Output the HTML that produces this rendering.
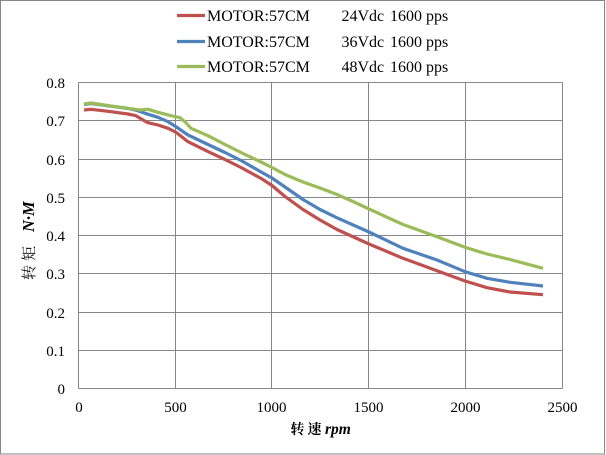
<!DOCTYPE html>
<html>
<head>
<meta charset="utf-8">
<style>
html,body{margin:0;padding:0;background:#fff;}
svg{display:block;}
text{font-family:"Liberation Serif","Noto Serif CJK SC",serif;fill:#000;}
</style>
</head>
<body>
<svg width="606" height="455" viewBox="0 0 606 455" xmlns="http://www.w3.org/2000/svg">
<rect x="0.5" y="0.5" width="604" height="453.5" fill="#fff" stroke="#868686" stroke-width="1"/>

<!-- gridlines -->
<g stroke="#868686" stroke-width="1" shape-rendering="crispEdges">
<line x1="78.5" y1="82.5" x2="562.5" y2="82.5"/>
<line x1="78.5" y1="120.5" x2="562.5" y2="120.5"/>
<line x1="78.5" y1="159.5" x2="562.5" y2="159.5"/>
<line x1="78.5" y1="197.5" x2="562.5" y2="197.5"/>
<line x1="78.5" y1="235.5" x2="562.5" y2="235.5"/>
<line x1="78.5" y1="273.5" x2="562.5" y2="273.5"/>
<line x1="78.5" y1="312.5" x2="562.5" y2="312.5"/>
<line x1="78.5" y1="350.5" x2="562.5" y2="350.5"/>
<line x1="78.5" y1="388.5" x2="562.5" y2="388.5"/>
<line x1="78.5" y1="82.5" x2="78.5" y2="388.5"/>
<line x1="175.5" y1="82.5" x2="175.5" y2="388.5"/>
<line x1="271.5" y1="82.5" x2="271.5" y2="388.5"/>
<line x1="368.5" y1="82.5" x2="368.5" y2="388.5"/>
<line x1="465.5" y1="82.5" x2="465.5" y2="388.5"/>
<line x1="562.5" y1="82.5" x2="562.5" y2="388.5"/>
</g>

<!-- y tick labels -->
<g font-size="15" text-anchor="end">
<text x="65" y="88">0.8</text>
<text x="65" y="126">0.7</text>
<text x="65" y="165">0.6</text>
<text x="65" y="203">0.5</text>
<text x="65" y="241">0.4</text>
<text x="65" y="279">0.3</text>
<text x="65" y="318">0.2</text>
<text x="65" y="356">0.1</text>
<text x="65" y="394">0</text>
</g>

<!-- x tick labels -->
<g font-size="15" text-anchor="middle">
<text x="79" y="412">0</text>
<text x="175.5" y="412">500</text>
<text x="271.5" y="412">1000</text>
<text x="368.5" y="412">1500</text>
<text x="465.5" y="412">2000</text>
<text x="562.5" y="412">2500</text>
</g>

<!-- axis titles -->
<text x="290.5" y="434" font-size="14" font-weight="bold" letter-spacing="3" font-family="'Liberation Serif','Noto Serif CJK SC',serif">转速</text>
<text x="325" y="434" font-size="15.5" font-weight="bold" font-style="italic">rpm</text>

<g transform="translate(34,240) rotate(-90)">
<text x="-40" y="0" font-size="15" letter-spacing="4" font-family="'Liberation Serif','Noto Serif CJK SC',serif">转矩</text>
<text x="8" y="0" font-size="16.5" font-weight="bold" font-style="italic">N·M</text>
</g>

<!-- series -->
<g fill="none" stroke-width="3.2" stroke-linejoin="round" stroke-linecap="butt">
<polyline stroke="#C0504D" points="84,110 91,109.3 111,111.7 128,114 136,115.7 143,120 148,122.7 158,125 168,128.3 176,132.3 188,141.7 208,151.6 225,159.5 242,168 262,179 272,185.5 285,196.5 303,209.5 320,220 337,229.5 369,244 403,258.3 437,270.7 465,281 487,287.7 510,292 543,294.7"/>
<polyline stroke="#4F81BD" points="84,104.5 91,103.5 111,106.2 128,108.5 137,110.5 145,113.3 158,117.3 168,121.7 176,126.7 188,135 208,144.5 225,152.5 242,161 262,172.5 272,178 285,187 303,199.5 320,209.5 337,217.8 369,232 403,248.3 437,260 465,271.7 487,278.3 510,282.3 543,286"/>
<polyline stroke="#9BBB59" points="84,104 91,103 111,106 128,108.3 140,110 148,109.3 158,112.3 171,115.7 180,117.7 185,121.7 191,128.3 208,135.7 225,144.5 242,153 262,162.5 272,167.5 285,174.5 303,182 320,188 337,194.5 353,201.5 369,209 403,224.5 437,236.7 465,247.3 487,254 510,259.5 543,268.3"/>
</g>

<!-- legend -->
<g stroke-width="3.2">
<line x1="177" y1="15.5" x2="205" y2="15.5" stroke="#C0504D"/>
<line x1="177" y1="41.5" x2="205" y2="41.5" stroke="#4F81BD"/>
<line x1="177" y1="66.5" x2="205" y2="66.5" stroke="#9BBB59"/>
</g>
<g font-size="16">
<text x="207" y="21">MOTOR:57CM</text>
<text x="341.5" y="21">24Vdc</text>
<text x="390" y="21">1600 pps</text>
<text x="207" y="47">MOTOR:57CM</text>
<text x="341.5" y="47">36Vdc</text>
<text x="390" y="47">1600 pps</text>
<text x="207" y="72">MOTOR:57CM</text>
<text x="341.5" y="72">48Vdc</text>
<text x="390" y="72">1600 pps</text>
</g>
</svg>
</body>
</html>
